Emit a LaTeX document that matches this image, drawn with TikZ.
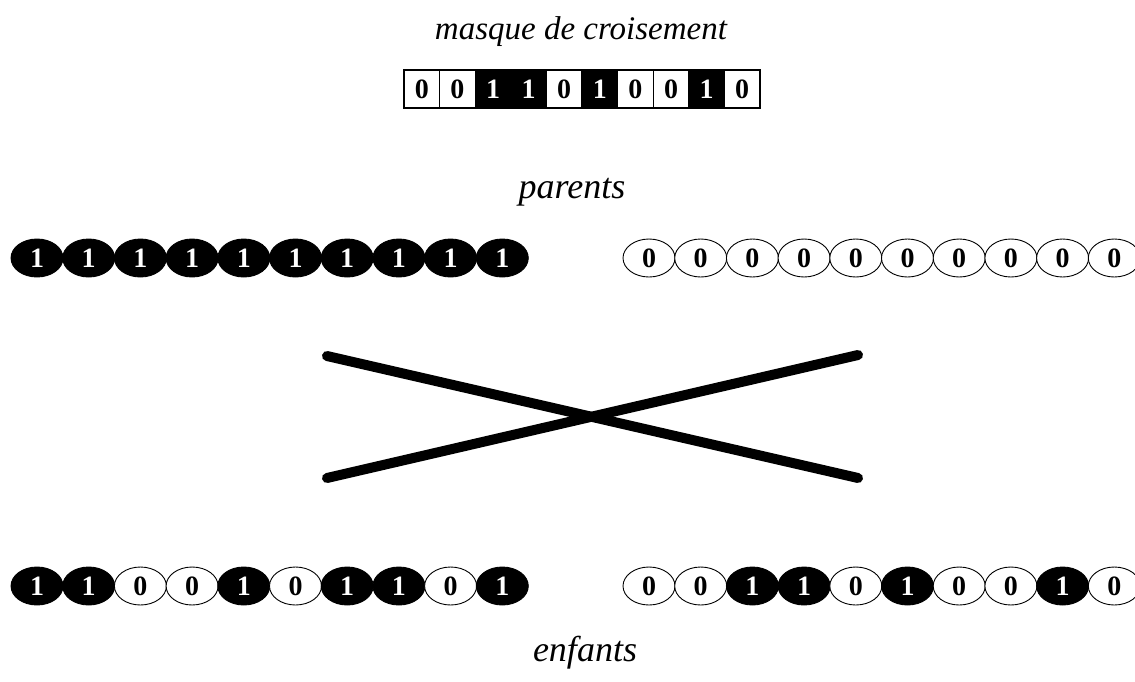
\documentclass[tikz,border=0pt]{standalone}
\usepackage{fontspec}
\setmainfont{Liberation Serif}
\usetikzlibrary{shapes.geometric}
\tikzstyle{gene}=[draw,ellipse,line width=0.9pt,minimum width=52pt,minimum height=38pt,inner sep=0pt,font=\fontsize{28}{28}\selectfont\bfseries]
\tikzstyle{gene0}=[gene,fill=white,text=black]
\tikzstyle{gene1}=[gene,fill=black,text=white]
\tikzstyle{cell}=[draw,rectangle,line width=1.2pt,minimum width=35.6pt,minimum height=38pt,inner sep=0pt,font=\fontsize{28}{28}\selectfont\bfseries]
\tikzstyle{cell0}=[cell,fill=white,text=black]
\tikzstyle{cell1}=[cell,fill=black,text=white]

\begin{document}
\begin{tikzpicture}[x=1pt,y=-1pt]
\tikzstyle{heading}=[anchor=base,inner sep=0pt,font=\fontsize{36}{36}\selectfont\itshape]
  \useasboundingbox (0,0) rectangle (1135,681);
  % crossover mask
  \node[heading,font=\fontsize{33}{33}\selectfont\itshape] (masktitle) at (581,39) {masque de croisement};
  \foreach \b [count=\i] in {0,0,1,1,0,1,0,0,1,0}
    \node[cell\b] (m\i) at ({421.8+35.6*(\i-1)},89) {\b};
  % parents
  \node[heading] (parents) at (572,198) {parents};
  \foreach \b [count=\i] in {1,1,1,1,1,1,1,1,1,1}
    \node[gene\b] (pa\i) at ({37+51.7*(\i-1)},258) {\b};
  \foreach \b [count=\i] in {0,0,0,0,0,0,0,0,0,0}
    \node[gene\b] (pb\i) at ({649+51.7*(\i-1)},258) {\b};
  % cross
  \coordinate (xtl) at (327,356);
  \coordinate (xtr) at (858,355);
  \coordinate (xbl) at (327,478);
  \coordinate (xbr) at (858,478);
  \draw[line width=10pt,line cap=round] (xtl) -- (xbr);
  \draw[line width=10pt,line cap=round] (xbl) -- (xtr);
  % children
  \foreach \b [count=\i] in {1,1,0,0,1,0,1,1,0,1}
    \node[gene\b] (ea\i) at ({37+51.7*(\i-1)},586) {\b};
  \foreach \b [count=\i] in {0,0,1,1,0,1,0,0,1,0}
    \node[gene\b] (eb\i) at ({649+51.7*(\i-1)},586) {\b};
  \node[heading] (enfants) at (585,661) {enfants};
\end{tikzpicture}
\end{document}
